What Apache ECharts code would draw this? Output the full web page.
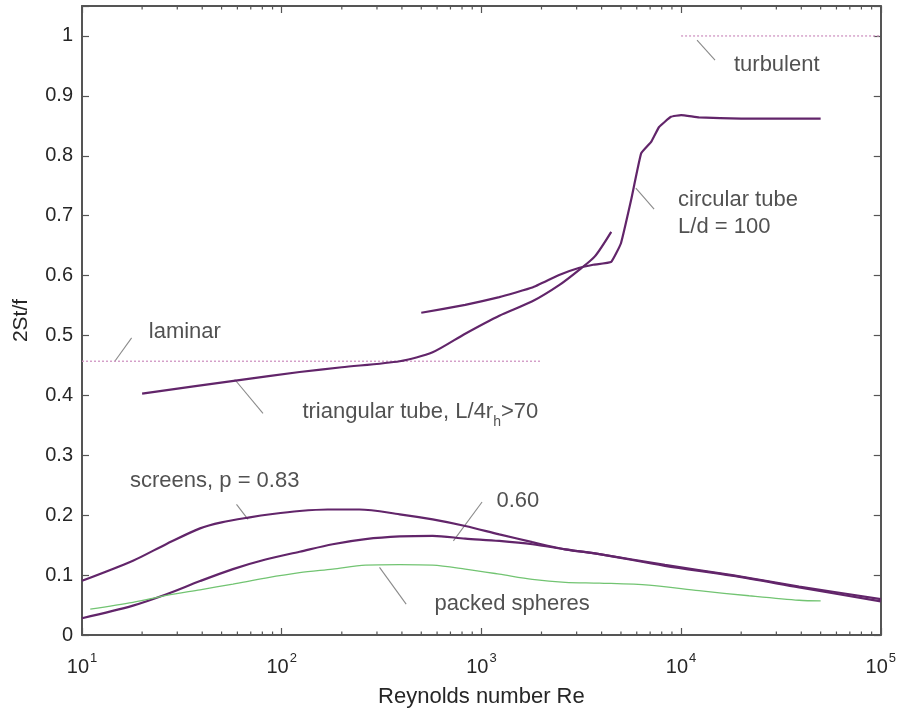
<!DOCTYPE html>
<html>
<head>
<meta charset="utf-8">
<script src="https://cdn.jsdelivr.net/npm/echarts@6/dist/echarts.min.js"></script>
<style>
html,body{margin:0;padding:0;background:#fff;}
#chart{width:899px;height:713px;}
</style>
</head>
<body>
<div id="chart"></div>
<script>
// ---- data (Reynolds number, 2St/f) ----
var triangularRe = [20, 60, 123, 200, 390, 570, 830, 1230, 1800, 2450, 3100, 3700, 4470];
var triangularVal = [0.403, 0.425, 0.439, 0.447, 0.457, 0.472, 0.503, 0.533, 0.557, 0.584, 0.610, 0.632, 0.673];

var circularRe = [500, 830, 1230, 1800, 2450, 3100, 3630, 4470, 5000, 5620, 6310, 7080, 7760, 8900, 10000, 12300, 20000, 50000];
var circularVal = [0.538, 0.551, 0.564, 0.580, 0.601, 0.613, 0.618, 0.623, 0.654, 0.726, 0.804, 0.823, 0.848, 0.865, 0.868, 0.864, 0.862, 0.862];

var screens083Re = [10, 18, 26.5, 39, 50, 68, 90, 123, 170, 245, 390, 570, 830, 1230, 1800, 2630, 3900, 8300, 18000, 39000, 100000];
var screens083Val = [0.0905, 0.124, 0.152, 0.178, 0.188, 0.196, 0.202, 0.207, 0.2095, 0.2095, 0.2015, 0.193, 0.182, 0.168, 0.155, 0.143, 0.135, 0.1155, 0.099, 0.0795, 0.056];

var screens060Re = [10, 18, 26.5, 39, 57, 83, 123, 180, 263, 390, 570, 830, 1230, 1800, 2630, 3900, 8300, 18000, 39000, 100000];
var screens060Val = [0.028, 0.049, 0.068, 0.090, 0.110, 0.126, 0.139, 0.1515, 0.160, 0.1645, 0.1655, 0.161, 0.157, 0.1515, 0.143, 0.135, 0.117, 0.100, 0.081, 0.060];

var spheresRe = [11, 18, 26.5, 39, 57, 83, 123, 180, 263, 390, 570, 830, 1230, 1800, 2630, 3900, 6900, 12300, 21900, 39000, 50000];
var spheresVal = [0.0433, 0.0545, 0.066, 0.0755, 0.085, 0.095, 0.104, 0.110, 0.1166, 0.1175, 0.1166, 0.110, 0.1016, 0.093, 0.088, 0.0866, 0.0833, 0.074, 0.0655, 0.058, 0.057];

var laminarRe = [10, 2000];
var laminarVal = [0.457, 0.457];
var turbulentRe = [10000, 100000];
var turbulentVal = [1.0, 1.0];

var minorTickRe = [20,30,40,50,60,70,80,90,200,300,400,500,600,700,800,900,
  2000,3000,4000,5000,6000,7000,8000,9000,20000,30000,40000,50000,60000,70000,80000,90000];

// annotation texts and their anchor points (data coords)
var annotationTexts = ['turbulent', 'circular tube\nL/d = 100', 'laminar',
  'triangular tube, L/4r{sub|h}>70', 'screens, p = 0.83', '0.60', 'packed spheres'];
var annotationRe = [18400, 9660, 21.6, 127, 17.4, 1189, 582];
var annotationVal = [0.951, 0.704, 0.5064, 0.373, 0.258, 0.2232, 0.0516];

// leader lines: [Re1, v1, Re2, v2]
var leaders = [
  [12020, 0.993, 14790, 0.9595],
  [5935, 0.7458, 7328, 0.7108],
  [14.6, 0.457, 17.72, 0.496],
  [58.2, 0.4265, 80.6, 0.370],
  [59.4, 0.218, 67.8, 0.193],
  [1008, 0.222, 724, 0.157],
  [309, 0.1128, 420, 0.0516]
];

function zip(a, b) { return a.map(function (v, i) { return [v, b[i]]; }); }

var FONT = 'Liberation Sans, Arial, Helvetica, sans-serif';
var TXT = '#262626';
var PURPLE = '#62256a';
var GREEN = '#72c472';
var DOT = '#cf94c2';
var AXIS = '#555';

var chart = echarts.init(document.getElementById('chart'), null, {renderer: 'canvas'});

var series = [];
function curve(name, re, val, color, width, smooth, dash) {
  series.push({
    name: name, type: 'line', xAxisIndex: 0, yAxisIndex: 0,
    data: zip(re, val), showSymbol: false, symbol: 'none',
    smooth: smooth,
    lineStyle: {color: color, width: width, type: dash || 'solid'},
    silent: true, z: 3
  });
}
curve('laminar', laminarRe, laminarVal, DOT, 1.3, false, [2, 2]);
curve('turbulent', turbulentRe, turbulentVal, DOT, 1.3, false, [2, 2]);
curve('triangular', triangularRe, triangularVal, PURPLE, 2.2, 0.25);
curve('circular', circularRe, circularVal, PURPLE, 2.2, 0.1);
curve('screens083', screens083Re, screens083Val, PURPLE, 2.2, 0.3);
curve('screens060', screens060Re, screens060Val, PURPLE, 2.2, 0.3);
curve('spheres', spheresRe, spheresVal, GREEN, 1.3, 0.3);

// leader lines
leaders.forEach(function (l, i) {
  series.push({
    name: 'leader' + i, type: 'line', data: [[l[0], l[1]], [l[2], l[3]]],
    symbol: 'none', lineStyle: {color: '#8a8a8a', width: 1.1}, silent: true, z: 2
  });
});

// annotations
series.push({
  name: 'annotations', type: 'scatter', symbolSize: 0, silent: true, z: 5,
  data: annotationTexts.map(function (t, i) { return {value: [annotationRe[i], annotationVal[i]], text: t}; }),
  label: {
    show: true, position: 'right', distance: 0,
    formatter: function (p) { return p.data.text; },
    fontFamily: FONT, fontSize: 22, color: TXT, lineHeight: 27,
    rich: {
      sub: {fontFamily: FONT, fontSize: 14, color: TXT, padding: [22, 0, 0, 0]}
    }
  }
});

// minor log ticks on bottom and top axes
series.push({
  name: 'minorTicks', type: 'custom', silent: true, clip: false, z: 6,
  data: minorTickRe.map(function (v) { return [v, 0.5]; }),
  encode: {x: 0, y: 1},
  renderItem: function (params, api) {
    var x = api.coord([api.value(0), api.value(1)])[0];
    var cs = params.coordSys;
    var st = {stroke: AXIS, lineWidth: 1.2};
    return {type: 'group', children: [
      {type: 'line', shape: {x1: x, y1: cs.y + cs.height, x2: x, y2: cs.y + cs.height - 3.5}, style: st},
      {type: 'line', shape: {x1: x, y1: cs.y, x2: x, y2: cs.y + 3.5}, style: st}
    ]};
  }
});

function supLabel(v) {
  var e = Math.round(Math.log(v) / Math.LN10);
  return '10{sup|' + e + '}';
}

var option = {
  animation: false,
  backgroundColor: '#fff',
  grid: {left: 82, right: 18, top: 6, bottom: 77, containLabel: false},
  xAxis: [{
    type: 'log', logBase: 10, min: 10, max: 100000, position: 'bottom',
    name: 'Reynolds number Re', nameLocation: 'middle', nameGap: 51,
    nameTextStyle: {fontFamily: FONT, fontSize: 22, color: TXT},
    axisLine: {show: true, lineStyle: {color: AXIS, width: 2}},
    axisTick: {show: true, inside: true, length: 7, lineStyle: {color: AXIS, width: 1.2}},
    splitLine: {show: false}, minorTick: {show: false},
    axisLabel: {
      margin: 17, formatter: supLabel, fontFamily: FONT, fontSize: 20, color: TXT,
      rich: {sup: {fontFamily: FONT, fontSize: 13, color: TXT, padding: [0, 0, 18, 1]}}
    }
  }, {
    type: 'log', logBase: 10, min: 10, max: 100000, position: 'top',
    axisLine: {show: true, onZero: false, lineStyle: {color: AXIS, width: 2}},
    axisTick: {show: true, inside: true, length: 7, lineStyle: {color: AXIS, width: 1.2}},
    axisLabel: {show: false}, splitLine: {show: false}
  }],
  yAxis: [{
    type: 'value', min: 0, max: 1.05, interval: 0.1, position: 'left',
    name: '2St/f', nameLocation: 'middle', nameGap: 50, nameRotate: 90,
    nameTextStyle: {fontFamily: FONT, fontSize: 21, color: TXT},
    axisLine: {show: true, onZero: false, lineStyle: {color: AXIS, width: 2}},
    axisTick: {show: true, inside: true, length: 7, lineStyle: {color: AXIS, width: 1.2}},
    splitLine: {show: false},
    axisLabel: {
      margin: 9, fontFamily: FONT, fontSize: 20, color: TXT,
      formatter: function (v) {
        if (v > 1.0001) return '';
        return String(Math.round(v * 10) / 10);
      }
    }
  }, {
    type: 'value', min: 0, max: 1.05, interval: 0.1, position: 'right',
    axisLine: {show: true, onZero: false, lineStyle: {color: AXIS, width: 2}},
    axisTick: {show: true, inside: true, length: 7, lineStyle: {color: AXIS, width: 1.2}},
    axisLabel: {show: false}, splitLine: {show: false}
  }],
  series: series
};
chart.setOption(option);
</script>
</body>
</html>
